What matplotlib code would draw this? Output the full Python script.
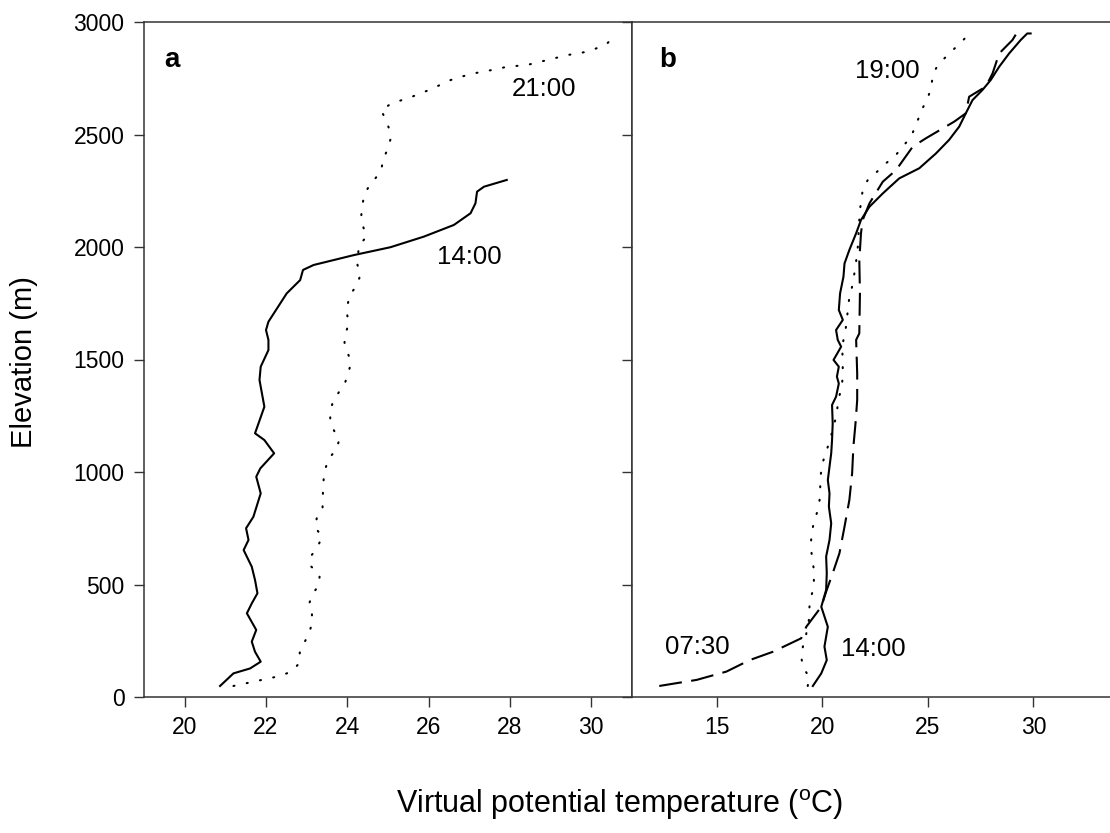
import matplotlib
matplotlib.use("Agg")
import matplotlib.pyplot as plt

plt.rcParams['font.family'] = ['Liberation Sans', 'DejaVu Sans']
plt.rcParams['mathtext.fontset'] = 'custom'
plt.rcParams['mathtext.rm'] = 'Liberation Sans'

# panel a, 14:00 (solid)
a_1400_temp = [20.87, 21.2, 21.61, 21.87, 21.73, 21.65, 21.76, 21.53, 21.65, 21.79, 21.73, 21.65,
               21.45, 21.57, 21.51, 21.69, 21.87, 21.76, 21.86, 22.2, 21.96, 21.73, 21.96, 21.84,
               21.87, 22.06, 22.06, 22.0, 22.06, 22.51, 22.84, 22.91, 23.17, 24.16, 25.06, 25.88,
               26.62, 27.03, 27.15, 27.19, 27.36, 27.92]
a_1400_elev = [49, 105, 127, 157, 201, 246, 298, 372, 416, 461, 520, 579,
               653, 698, 750, 801, 905, 979, 1016, 1083, 1142, 1172, 1290, 1409,
               1468, 1542, 1587, 1631, 1668, 1794, 1853, 1898, 1920, 1964, 1999, 2046,
               2098, 2150, 2194, 2246, 2268, 2298]

# panel a, 21:00 (dotted)
a_2100_temp = [21.2, 21.69, 22.18, 22.42, 22.65, 22.83, 22.83, 22.94, 23.06, 23.13, 23.13, 23.06,
               23.13, 23.30, 23.32, 23.09, 23.11, 23.27, 23.38, 23.21, 23.25, 23.39, 23.40, 23.40,
               23.42, 23.46, 23.54, 23.73, 23.80, 23.67, 23.58, 23.58, 23.65, 23.80, 23.95, 24.03,
               24.09, 24.01, 23.93, 23.97, 24.03, 23.99, 24.01, 24.07, 24.24, 24.32, 24.25, 24.28,
               24.47, 24.39, 24.34, 24.36, 24.40, 24.50, 24.69, 24.83, 24.89, 24.99, 25.06, 25.04,
               24.94, 24.83, 25.10, 25.55, 26.04, 26.54, 27.03, 27.48, 27.93, 28.42, 28.92, 29.41,
               29.90, 30.35, 30.58]
a_2100_elev = [49, 68, 87, 98, 116, 153, 197, 241, 283, 327, 372, 413,
               453, 498, 542, 584, 627, 668, 712, 754, 797, 841, 883, 927,
               972, 1015, 1058, 1101, 1142, 1185, 1231, 1272, 1314, 1357, 1400, 1443,
               1486, 1530, 1575, 1619, 1664, 1705, 1747, 1789, 1831, 1876, 1920, 2004,
               2046, 2090, 2132, 2176, 2216, 2260, 2305, 2341, 2394, 2434, 2478, 2520,
               2567, 2609, 2639, 2665, 2700, 2742, 2769, 2784, 2801, 2809, 2831, 2853,
               2868, 2898, 2938]

# panel b, 14:00 (solid)
b_1400_temp = [19.56, 19.96, 20.22, 20.11, 20.27, 19.96, 20.19, 20.22, 20.19, 20.35, 20.43, 20.32,
               20.35, 20.27, 20.35, 20.43, 20.47, 20.50, 20.47, 20.66, 20.79, 20.70, 20.79, 20.54,
               20.90, 20.74, 20.66, 20.98, 20.79, 20.85, 21.01, 21.06, 21.29, 21.61, 21.84, 22.24,
               22.87, 23.65, 24.60, 25.39, 26.01, 26.49, 26.80, 27.12, 27.59, 27.98, 28.38, 28.85,
               29.40, 29.71, 29.87]
b_1400_elev = [49, 105, 164, 224, 312, 401, 476, 550, 624, 698, 772, 846,
               905, 964, 1024, 1083, 1142, 1216, 1298, 1335, 1393, 1424, 1468, 1498,
               1557, 1587, 1631, 1676, 1720, 1794, 1868, 1927, 1987, 2061, 2120, 2179,
               2238, 2305, 2350, 2416, 2476, 2535, 2594, 2653, 2698, 2742, 2801, 2860,
               2920, 2949, 2949]

# panel b, 07:30 (dashed)
b_0730_temp = [12.29, 14.06, 15.47, 16.57, 17.67, 19.01, 19.25, 19.96, 20.19, 20.50, 20.82, 21.06,
               21.29, 21.42, 21.48, 21.58, 21.66, 21.66, 21.61, 21.76, 21.79, 21.76, 21.84, 21.92,
               22.24, 22.87, 23.50, 24.29, 24.91, 26.25, 26.80, 26.96, 27.75, 28.07, 28.38, 29.01,
               29.25]
b_0730_elev = [49, 76, 113, 164, 201, 261, 312, 401, 468, 550, 639, 757,
               876, 994, 1113, 1216, 1320, 1438, 1587, 1616, 1794, 1942, 2061, 2120,
               2194, 2290, 2342, 2446, 2483, 2557, 2594, 2668, 2713, 2772, 2860, 2920,
               2957]

# panel b, 19:00 (dotted)
b_1900_temp = [19.32, 19.37, 19.09, 19.01, 19.09, 19.22, 19.32, 19.40, 19.40, 19.48, 19.61, 19.61,
               19.48, 19.48, 19.53, 19.64, 19.80, 19.88, 19.91, 19.91, 19.96, 20.04, 20.19, 20.35,
               20.58, 20.70, 20.74, 20.95, 20.98, 20.95, 21.13, 21.29, 21.42, 21.58, 21.69, 21.76,
               21.79, 21.92, 22.16, 22.55, 23.02, 23.45, 23.84, 24.21, 24.56, 24.75, 24.99, 25.15,
               25.22, 25.39, 25.71, 26.10, 26.57, 26.96]
b_1900_elev = [49, 90, 135, 179, 224, 268, 312, 357, 401, 446, 490, 564,
               653, 698, 742, 787, 831, 876, 920, 964, 1009, 1046, 1090, 1135,
               1216, 1260, 1305, 1393, 1476, 1557, 1646, 1779, 1824, 1912, 2001, 2120,
               2164, 2253, 2298, 2330, 2372, 2404, 2449, 2490, 2571, 2616, 2660, 2704,
               2749, 2794, 2831, 2868, 2908, 2949]

a_xticks = [20, 22, 24, 26, 28, 30]
b_xticks = [15, 20, 25, 30]
yticks = [0, 500, 1000, 1500, 2000, 2500, 3000]

W, H = 1110, 833
fig = plt.figure(figsize=(W / 100, H / 100), dpi=100)
ax_a = fig.add_axes([144 / W, (H - 697) / H, 488 / W, 675 / H])
ax_b = fig.add_axes([632 / W, (H - 697) / H, 507 / W, 675 / H])

solid = dict(color='black', lw=1.5)
dotted = dict(color='black', lw=1.5, dashes=(0.5, 6.0), dash_capstyle='round')
dashed = dict(color='black', lw=1.5, dashes=(11, 4.5))

ax_a.plot(a_1400_temp, a_1400_elev, **solid)
ax_a.plot(a_2100_temp, a_2100_elev, **dotted)
ax_b.plot(b_1400_temp, b_1400_elev, **solid)
ax_b.plot(b_0730_temp, b_0730_elev, **dashed)
ax_b.plot(b_1900_temp, b_1900_elev, **dotted)

ax_a.set_xlim(19, 31)
ax_b.set_xlim(11, 35)
for ax in (ax_a, ax_b):
    ax.set_ylim(0, 3000)
    ax.set_yticks(yticks)
    for s in ax.spines.values():
        s.set_color('#333333')
        s.set_linewidth(1.1)
    ax.tick_params(direction='out', length=7, width=1.0, color='#333333',
                   labelsize=16.5, pad=7)
ax_a.set_xticks(a_xticks)
ax_b.set_xticks(b_xticks)
ax_b.tick_params(axis='y', labelleft=False)

ax_a.text(0.057, 0.944, 'a', transform=ax_a.transAxes, fontsize=20, fontweight='bold',
          ha='center', va='center')
ax_b.text(0.071, 0.944, 'b', transform=ax_b.transAxes, fontsize=20, fontweight='bold',
          ha='center', va='center')

ax_a.text(28.83, 2702, '21:00', fontsize=18.5, ha='center', va='center')
ax_a.text(27.0, 1956, '14:00', fontsize=18.5, ha='center', va='center')
ax_b.text(23.09, 2782, '19:00', fontsize=18.5, ha='center', va='center')
ax_b.text(14.07, 222, '07:30', fontsize=18.5, ha='center', va='center')
ax_b.text(22.43, 213, '14:00', fontsize=18.5, ha='center', va='center')

fig.text(620 / W, (H - 805) / H, r'Virtual potential temperature ($^{\mathregular{o}}$C)',
         fontsize=22, ha='center', va='center')
fig.text(24 / W, (H - 362) / H, 'Elevation (m)', fontsize=21, rotation=90,
         ha='center', va='center')

fig.savefig('out.png', dpi=100)
